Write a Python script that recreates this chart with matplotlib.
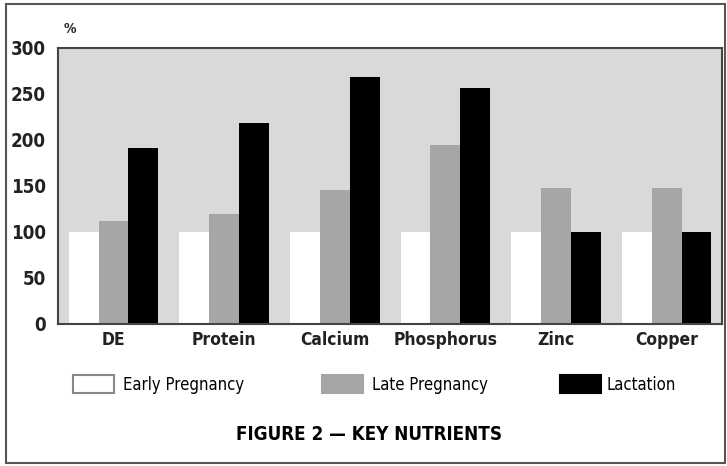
import matplotlib
matplotlib.use("Agg")
import matplotlib.pyplot as plt
import numpy as np
from matplotlib.patches import Rectangle

nutrients = ["DE", "Protein", "Calcium", "Phosphorus", "Zinc", "Copper"]
early_pregnancy = [100, 100, 100, 100, 100, 100]
late_pregnancy = [112, 120, 146, 195, 148, 148]
lactation = [191, 218, 269, 257, 100, 100]
series_names = ["Early Pregnancy", "Late Pregnancy", "Lactation"]
y_ticks = [0, 50, 100, 150, 200, 250, 300]

plt.rcParams["font.family"] = ["DejaVu Sans"]
plt.rcParams["font.stretch"] = "condensed"

fig = plt.figure(figsize=(7.27, 4.66), dpi=100)
ax = fig.add_axes([0.080, 0.305, 0.913, 0.592])

colors = ["white", "#a6a6a6", "black"]
x = np.arange(len(nutrients))
w = 0.27
for i, (vals, c) in enumerate(zip([early_pregnancy, late_pregnancy, lactation], colors)):
    ax.bar(x + (i - 1) * w, vals, width=w, color=c, edgecolor="none", zorder=2)

ax.set_facecolor("#d9d9d9")
ax.set_xlim(-0.5, len(nutrients) - 0.5)
ax.set_ylim(0, 300)
ax.set_yticks(y_ticks)
ax.set_yticklabels([str(t) for t in y_ticks], fontsize=13.5, fontweight="bold",
                   fontstretch="condensed", color="#222222")
ax.set_xticks(x)
ax.set_xticklabels(nutrients, fontsize=12.5, fontweight="bold", fontstretch="condensed",
                   color="#222222")
ax.tick_params(axis="x", length=0, pad=5)
ax.tick_params(axis="y", length=0, pad=9)
for s in ax.spines.values():
    s.set_color("#444444")
    s.set_linewidth(1.5)

fig.text(0.088, 0.938, "%", fontsize=10, fontweight="bold", ha="left", va="center",
         fontstretch="condensed", color="#222222")

# legend drawn manually below the axes
legend_boxes = [(73, "white"), (322, "#a6a6a6"), (560, "black")]
text_x = [123, 372, 607]
for (bx, c), tx, name in zip(legend_boxes, text_x, series_names):
    fig.patches.append(Rectangle((bx / 727, 1 - 393 / 466), 41 / 727, 18 / 466,
                                 transform=fig.transFigure, facecolor=c,
                                 edgecolor="#888888" if c == "white" else c, lw=1.5))
    fig.text(tx / 727, 1 - 385 / 466, name, fontsize=12, ha="left", va="center",
             fontstretch="condensed")

fig.text(369 / 727, 1 - 434 / 466, "FIGURE 2 \u2014 KEY NUTRIENTS", fontsize=13.5,
         fontweight="bold", ha="center", va="center", fontstretch="condensed")

# outer frame
fig.patches.append(Rectangle((6 / 727, 3 / 466), 719 / 727, 459 / 466,
                             transform=fig.transFigure, facecolor="none",
                             edgecolor="#555555", lw=1.5))

fig.savefig("out.png", dpi=100)
